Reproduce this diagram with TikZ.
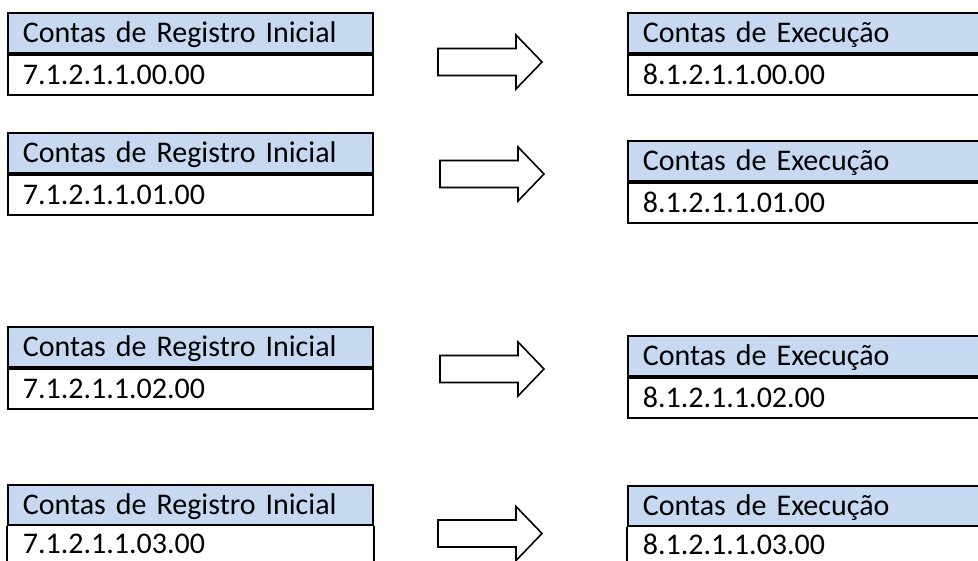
\documentclass[tikz,border=0pt]{standalone}
\usepackage{fontspec}
\setmainfont{Carlito}
\definecolor{headfill}{RGB}{198,217,241}
\begin{document}
\begin{tikzpicture}[x=1pt,y=-1pt,
  cell/.style={draw=black, line width=1.8pt, rectangle, minimum height=40pt,
    inner xsep=15pt, inner ysep=0pt, text height=20pt, text depth=0pt,
    align=left, anchor=north west, font=\fontsize{30}{34}\selectfont},
  leftcell/.style={cell, text width=335pt},
  rightcell/.style={cell, text width=333pt},
  headcell/.style={fill=headfill},
  % last row runs off the page: no bottom edge, only the side walls
  opencell/.style={draw=none, minimum height=37pt, text height=17pt},
  wall/.style={draw=black, line width=1.8pt},
  blockarrow/.style={draw=black, line width=1.6pt, fill=white, line join=miter}]
  \useasboundingbox (0,0) rectangle (978,561);
  \clip (0,0) rectangle (978,561);
  % account tables: initial registration (left) and execution (right)
  \foreach \i/\ly/\ry/\code in {1/12/12/00, 2/132/140/01, 3/326/335/02} {
    \node[leftcell, headcell] (lh\i) at (7,\ly) {Contas de Registro Inicial};
    \node[leftcell] (ln\i) at (lh\i.south west) {7.1.2.1.1.\code.00};
    \node[rightcell, headcell] (rh\i) at (627,\ry) {Contas de Execução};
    \node[rightcell] (rn\i) at (rh\i.south west) {8.1.2.1.1.\code.00};
  }
  \node[leftcell, headcell] (lh4) at (7,484) {Contas de Registro Inicial};
  \node[leftcell, opencell] (ln4) at (lh4.south west) {7.1.2.1.1.03.00};
  \node[rightcell, headcell] (rh4) at (627,485) {Contas de Execução};
  \node[rightcell, opencell] (rn4) at (rh4.south west) {8.1.2.1.1.03.00};
  \draw[wall] (lh4.south west) -- (ln4.south west);
  \draw[wall] (lh4.south east) -- (ln4.south east);
  \draw[wall] (rh4.south west) -- (rn4.south west);
  % block arrows between the tables
  \foreach \x/\y in {438/62, 440/174, 440/369, 438/533.5} {
    \draw[blockarrow] (\x,\y-13.5) -- ++(78,0) -- ++(0,-13.5) -- (\x+104,\y)
      -- (\x+78,\y+27) -- ++(0,-13.5) -- (\x,\y+13.5) -- cycle;
  }
\end{tikzpicture}
\end{document}
